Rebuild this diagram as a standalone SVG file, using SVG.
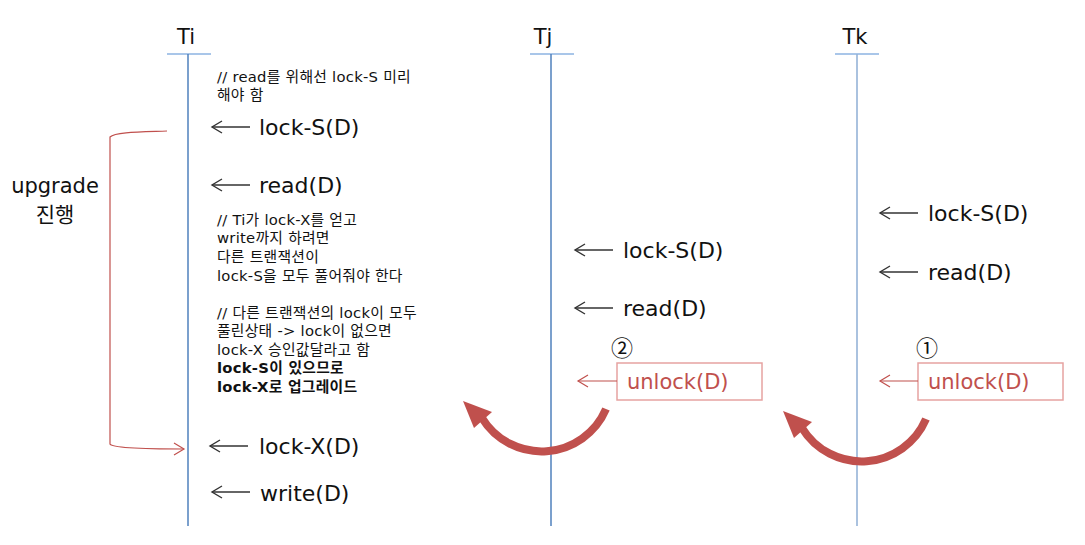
<svg xmlns="http://www.w3.org/2000/svg" width="1085" height="545" viewBox="0 0 1085 545">
<style>
.hdr{font-family:"DejaVu Sans","Noto Sans CJK KR",sans-serif;font-size:21px;fill:#111;text-anchor:middle}
.lbl{font-family:"DejaVu Sans","Noto Sans CJK KR",sans-serif;font-size:22px;fill:#111}
.cm{font-family:"DejaVu Sans","Noto Sans CJK KR",sans-serif;font-size:14.8px;letter-spacing:0.25px;fill:#111}
.b{font-weight:bold}
.ul{font-family:"DejaVu Sans","Noto Sans CJK KR",sans-serif;font-size:21px;fill:#C0504D}
.num{font-family:"Noto Sans CJK KR",sans-serif;font-size:22px;fill:#111;text-anchor:middle}
.life{stroke:#4F81BD;stroke-width:1.5;fill:none}
.life2{stroke:#95B3D7;stroke-width:1.6;fill:none}
.head{stroke:#8DB3E2;stroke-width:1.4}
.arr{stroke:#333;stroke-width:1.4;fill:none}
.rarr{stroke:#C0504D;stroke-width:1.2;fill:none}
.box{fill:#fff;stroke:#E6A3A1;stroke-width:1.5}
.big{stroke:#C0504D;stroke-width:8;fill:none}
</style>
<defs>
<marker id="open" markerWidth="13" markerHeight="14" refX="11" refY="7" orient="auto-start-reverse" markerUnits="userSpaceOnUse">
<path d="M1,1 L11,7 L1,13" fill="none" stroke="#333" stroke-width="1.4"/>
</marker>
<marker id="ropen" markerWidth="13" markerHeight="14" refX="11" refY="7" orient="auto-start-reverse" markerUnits="userSpaceOnUse">
<path d="M1,1 L11,7 L1,13" fill="none" stroke="#C0504D" stroke-width="1.2"/>
</marker>
</defs>
<rect width="1085" height="545" fill="#fff"/>

<g id="Ti">
<text class="hdr" x="186" y="44">Ti</text>
<line class="head" x1="167" y1="54" x2="211" y2="54"/>
<line class="life" x1="188" y1="54" x2="188" y2="526"/>
</g>
<g id="Tj">
<text class="hdr" x="543" y="44">Tj</text>
<line class="head" x1="530" y1="54" x2="574" y2="54"/>
<line class="life" x1="551" y1="54" x2="551" y2="526"/>
</g>
<g id="Tk">
<text class="hdr" x="855" y="44">Tk</text>
<line class="head" x1="835" y1="54" x2="879" y2="54"/>
<line class="life2" x1="857" y1="54" x2="857" y2="526"/>
</g>

<g id="comments">
<text class="cm" x="217" y="82">// read를 위해선 lock-S 미리</text>
<text class="cm" x="217" y="100">해야 함</text>
<text class="cm" x="217" y="225">// Ti가 lock-X를 얻고</text>
<text class="cm" x="217" y="243">write까지 하려면</text>
<text class="cm" x="217" y="262">다른 트랜잭션이</text>
<text class="cm" x="217" y="281">lock-S을 모두 풀어줘야 한다</text>
<text class="cm" x="217" y="318">// 다른 트랜잭션의 lock이 모두</text>
<text class="cm" x="217" y="336">풀린상태 -&gt; lock이 없으면</text>
<text class="cm" x="217" y="355">lock-X 승인값달라고 함</text>
<text class="cm b" x="217" y="373">lock-S이 있으므로</text>
<text class="cm b" x="217" y="392">lock-X로 업그레이드</text>
</g>

<g id="upgrade">
<text class="hdr" x="55" y="193">upgrade</text>
<text class="hdr" x="55" y="222">진행</text>
</g>

<g id="ops">
<text class="lbl" x="259" y="135">lock-S(D)</text>
<text class="lbl" x="259" y="193">read(D)</text>
<text class="lbl" x="259" y="454">lock-X(D)</text>
<text class="lbl" x="260" y="501">write(D)</text>
<text class="lbl" x="623" y="258">lock-S(D)</text>
<text class="lbl" x="623" y="316">read(D)</text>
<text class="lbl" x="928" y="221">lock-S(D)</text>
<text class="lbl" x="928" y="280">read(D)</text>
</g>

<g id="unlockTj">
<rect class="box" x="617" y="363" width="145" height="37"/>
<text class="ul" x="627" y="389">unlock(D)</text>
<text class="num" x="622" y="356">②</text>
</g>
<g id="unlockTk">
<rect class="box" x="918" y="363" width="145" height="37"/>
<text class="ul" x="928" y="389">unlock(D)</text>
<text class="num" x="927" y="356">①</text>
</g>

<g id="connectors">
<line class="arr" x1="212" y1="127" x2="250" y2="127" marker-start="url(#open)"/>
<line class="arr" x1="212" y1="185" x2="250" y2="185" marker-start="url(#open)"/>
<line class="arr" x1="210" y1="446" x2="248" y2="446" marker-start="url(#open)"/>
<line class="arr" x1="212" y1="492" x2="250" y2="492" marker-start="url(#open)"/>
<line class="arr" x1="575" y1="250" x2="613" y2="250" marker-start="url(#open)"/>
<line class="arr" x1="575" y1="308" x2="613" y2="308" marker-start="url(#open)"/>
<line class="arr" x1="880" y1="213" x2="918" y2="213" marker-start="url(#open)"/>
<line class="arr" x1="880" y1="272" x2="918" y2="272" marker-start="url(#open)"/>
<line class="rarr" x1="578" y1="381" x2="617" y2="381" marker-start="url(#ropen)"/>
<line class="rarr" x1="880" y1="381" x2="918" y2="381" marker-start="url(#ropen)"/>
<path class="rarr" d="M167,131 C140,132 115,132 110,137 L110,444 C112,449 160,449 184,449" marker-end="url(#ropen)"/>
<path class="big" d="M606,409 A70,70 0 0 1 482,418"/>
<polygon points="463,401 492,412 474,428" fill="#C0504D"/>
<path class="big" d="M926,419 A70,70 0 0 1 802,428"/>
<polygon points="783,411 812,422 794,438" fill="#C0504D"/>
</g>
</svg>
